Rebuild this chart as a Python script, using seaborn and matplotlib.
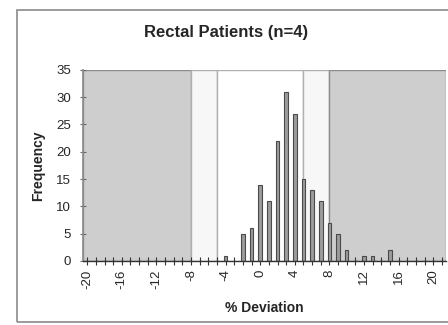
import matplotlib
matplotlib.use("Agg")
import matplotlib.pyplot as plt
import seaborn as sns
import pandas as pd
from matplotlib.patches import Rectangle

deviation = list(range(-20, 22))
frequency = [0, 0, 0, 0, 0, 0, 0, 0, 0, 0,
             0, 0, 0, 0, 0, 0, 1, 0, 5, 6,
             14, 11, 22, 31, 27, 15, 13, 11, 7, 5,
             2, 0, 1, 1, 0, 2, 0, 0, 0, 0,
             0, 0]
tick_labels = [-20, -16, -12, -8, -4, 0, 4, 8, 12, 16, 20]
title = "Rectal Patients (n=4)"

sns.set_theme(style="white")
plt.rcParams['font.family'] = ['Liberation Sans', 'DejaVu Sans']

df = pd.DataFrame({"dev": deviation, "freq": frequency})

fig = plt.figure(figsize=(4.48, 3.25), dpi=100)
fig.patch.set_facecolor("white")
ax = fig.add_axes([0.185, 0.197, 0.811, 0.588])

# outer chart frame
fig.add_artist(Rectangle((17 / 448, 1 - 322 / 325), 1.2, (322 - 10) / 325,
                         transform=fig.transFigure, fill=False,
                         edgecolor="#8a8a8a", linewidth=1.2))

# background zones
ax.axvspan(-20.5, -8, facecolor="#cecece", edgecolor="#8c8c8c", linewidth=1.0, zorder=0)
ax.axvspan(-8, -5, facecolor="#f7f7f7", edgecolor="#b0b0b0", linewidth=1.0, zorder=0)
ax.axvspan(-5, 5, facecolor="white", edgecolor="#b0b0b0", linewidth=1.0, zorder=0)
ax.axvspan(5, 8, facecolor="#f7f7f7", edgecolor="#b0b0b0", linewidth=1.0, zorder=0)
ax.axvspan(8, 21.5, facecolor="#cecece", edgecolor="#8c8c8c", linewidth=1.0, zorder=0)

sns.barplot(data=df, x="dev", y="freq", native_scale=True, width=0.4,
            color="#9c9c9c", edgecolor="#4a4a4a", linewidth=0.8,
            saturation=1, ax=ax, zorder=3)

ax.set_xlim(-20.5, 21.5)
ax.set_ylim(0, 35)
ax.set_xticks(deviation, minor=True)
ax.set_xticks(tick_labels)
ax.set_xticklabels([str(t) for t in tick_labels], rotation=90, fontsize=9.5)
ax.set_yticks(range(0, 36, 5))
ax.tick_params(axis="y", labelsize=9.5, length=5, width=0.8, color="#666666",
               left=True, direction="inout", pad=6)
ax.tick_params(axis="x", which="both", length=6, width=0.8, color="#333333",
               bottom=True, direction="inout", pad=3)

for s in ["top", "right"]:
    ax.spines[s].set_visible(False)
ax.spines["left"].set_color("#8c8c8c")
ax.spines["bottom"].set_color("#333333")
ax.spines["bottom"].set_linewidth(1.0)
ax.spines["bottom"].set_zorder(4)

ax.set_xlabel("% Deviation", fontsize=10, fontweight="bold", labelpad=9)
ax.set_ylabel("Frequency", fontsize=10, fontweight="bold", labelpad=8)
fig.text(0.505, 0.9, title, ha="center", va="center", fontsize=12, fontweight="bold")

fig.savefig("out.png", dpi=100, facecolor="white")
